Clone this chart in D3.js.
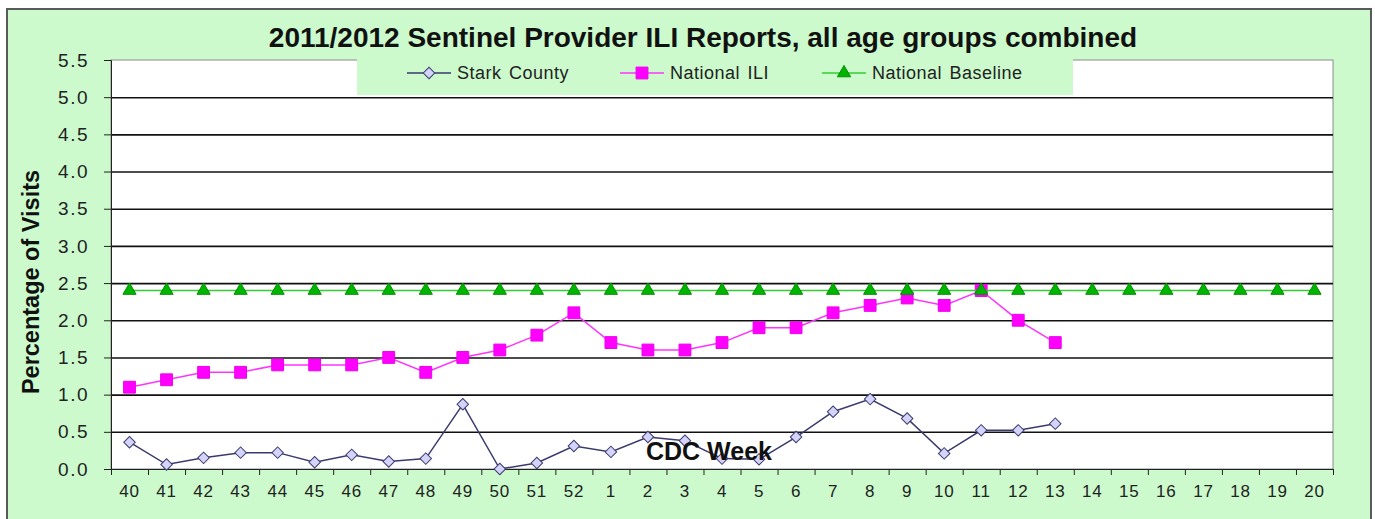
<!DOCTYPE html>
<html>
<head>
<meta charset="utf-8">
<script src="https://cdn.jsdelivr.net/npm/d3@7"></script>
<style>
  body { margin: 0; background: #fff; }
  text { font-family: Arial, "Liberation Sans", sans-serif; }
</style>
</head>
<body>
<div id="chart"></div>
<script>
// CDC weeks, season 2011/2012
const weeks = ["40","41","42","43","44","45","46","47","48","49","50","51","52",
  "1","2","3","4","5","6","7","8","9","10","11","12","13","14","15","16","17","18","19","20"];

// values (weeks after 13 not reported yet)
const starkCounty = [0.36, 0.06, 0.15, 0.22, 0.22, 0.09, 0.19, 0.10, 0.14, 0.87, 0.00, 0.08, 0.31,
  0.23, 0.43, 0.38, 0.14, 0.13, 0.43, 0.77, 0.94, 0.68, 0.21, 0.52, 0.52, 0.61];
const nationalILI = [1.1, 1.2, 1.3, 1.3, 1.4, 1.4, 1.4, 1.5, 1.3, 1.5, 1.6, 1.8, 2.1,
  1.7, 1.6, 1.6, 1.7, 1.9, 1.9, 2.1, 2.2, 2.3, 2.2, 2.4, 2.0, 1.7];
const nationalBaseline = weeks.map(() => 2.4);

const yTicks = [0, 0.5, 1, 1.5, 2, 2.5, 3, 3.5, 4, 4.5, 5, 5.5];

const W = 1375, H = 519;
const plot = { left: 111, right: 1333, top: 60, bottom: 469 };

const svg = d3.select("#chart").append("svg")
  .attr("width", W)
  .attr("height", H);

// outer frame
svg.append("rect")
  .attr("x", 7).attr("y", 9)
  .attr("width", 1364).attr("height", H)
  .attr("fill", "#ccfacc")
  .attr("stroke", "#5a5a5a")
  .attr("stroke-width", 2);

// plot area
svg.append("rect")
  .attr("x", plot.left).attr("y", plot.top)
  .attr("width", plot.right - plot.left).attr("height", plot.bottom - plot.top)
  .attr("fill", "#fff")
  .attr("stroke", "#8a8a8a")
  .attr("stroke-width", 1);

const x = d3.scaleBand()
  .domain(weeks)
  .range([plot.left, plot.right])
  .padding(0);

const xEdge = d3.scaleLinear()
  .domain([0, weeks.length])
  .range([plot.left, plot.right]);

const y = d3.scaleLinear()
  .domain([0, 5.5])
  .range([plot.bottom, plot.top]);

const cx = (i) => x(weeks[i]) + x.bandwidth() / 2;

// gridlines
svg.append("g")
  .attr("transform", `translate(${plot.left},0)`)
  .call(d3.axisLeft(y).tickValues(yTicks.filter(v => v > 0 && v < 5.5)).tickSize(-(plot.right - plot.left)).tickFormat(""))
  .call(g => g.select(".domain").remove())
  .selectAll("line")
  .attr("stroke", "#111")
  .attr("stroke-width", 1.6);

// y axis
svg.append("g")
  .attr("transform", `translate(${plot.left},0)`)
  .call(d3.axisLeft(y).tickValues(yTicks).tickSize(7).tickPadding(15).tickFormat(d3.format(".1f")))
  .call(g => g.select(".domain").attr("stroke", "#222"))
  .call(g => g.selectAll("line").attr("stroke", "#222"))
  .selectAll("text")
  .attr("font-size", "19px")
  .attr("letter-spacing", "1.5px")
  .attr("fill", "#222")
  .attr("font-family", "Arial, Liberation Sans, sans-serif");

// x axis ticks between categories
svg.append("g")
  .attr("transform", `translate(0,${plot.bottom})`)
  .call(d3.axisBottom(xEdge).tickValues(d3.range(weeks.length + 1)).tickSize(6).tickFormat(""))
  .call(g => g.selectAll("line").attr("stroke", "#222"))
  .call(g => g.select(".domain").attr("stroke", "#222"));

// x axis labels
svg.append("g")
  .attr("transform", `translate(0,${plot.bottom})`)
  .call(d3.axisBottom(x).tickSize(0).tickPadding(16))
  .call(g => g.select(".domain").remove())
  .selectAll("text")
  .attr("font-size", "17px")
  .attr("letter-spacing", "0.8px")
  .attr("fill", "#222")
  .attr("font-family", "Arial, Liberation Sans, sans-serif");

// series
const seriesDefs = [
  { name: "Stark County", values: starkCounty, line: "#3a3a6e", width: 1.5,
    symbol: d3.symbolSquare, size: 66, fill: "#d4d4fa", stroke: "#3a3a6e", rotate: 45 },
  { name: "National ILI", values: nationalILI, line: "#ff33ff", width: 1.5,
    symbol: d3.symbolSquare, size: 140, fill: "#ff00ff", stroke: "#ee00ee", rotate: 0 },
  { name: "National Baseline", values: nationalBaseline, line: "#33cc33", width: 1.5,
    symbol: d3.symbolTriangle, size: 75, fill: "#00b400", stroke: "#009000", rotate: 0 }
];

const line = d3.line()
  .x((d, i) => cx(i))
  .y(d => y(d));

seriesDefs.forEach(s => {
  const g = svg.append("g");
  g.append("path")
    .datum(s.values)
    .attr("fill", "none")
    .attr("stroke", s.line)
    .attr("stroke-width", s.width)
    .attr("d", line);
  g.selectAll("path.pt")
    .data(s.values.map((v, i) => ({ v, i })))
    .enter().append("path")
    .attr("class", "pt")
    .attr("d", d3.symbol(s.symbol, s.size))
    .attr("transform", d => `translate(${cx(d.i)},${y(d.v)}) rotate(${s.rotate})`)
    .attr("fill", s.fill)
    .attr("stroke", s.stroke)
    .attr("stroke-width", 1);
});

// legend
const legend = svg.append("g");
legend.append("rect")
  .attr("x", 357).attr("y", 57)
  .attr("width", 716).attr("height", 38)
  .attr("fill", "#ccfacc");

const legendPos = [407, 620, 822];
seriesDefs.forEach((s, i) => {
  const lx = legendPos[i], ly = 73;
  legend.append("line")
    .attr("x1", lx).attr("x2", lx + 44)
    .attr("y1", ly).attr("y2", ly)
    .attr("stroke", s.line)
    .attr("stroke-width", s.width);
  legend.append("path")
    .attr("d", d3.symbol(s.symbol, s.size))
    .attr("transform", `translate(${lx + 22},${ly}) rotate(${s.rotate})`)
    .attr("fill", s.fill)
    .attr("stroke", s.stroke);
  legend.append("text")
    .attr("x", lx + 50)
    .attr("y", ly + 6)
    .attr("font-size", "18px")
    .attr("letter-spacing", "0.5px")
    .attr("word-spacing", "2px")
    .attr("fill", "#222")
    .text(s.name);
});

// title
svg.append("text")
  .attr("x", 703)
  .attr("y", 47)
  .attr("text-anchor", "middle")
  .attr("font-size", "28px")
  .attr("font-weight", "bold")
  .attr("fill", "#111")
  .text("2011/2012 Sentinel Provider ILI Reports, all age groups combined");

// axis titles
svg.append("text")
  .attr("transform", "rotate(-90)")
  .attr("x", -282)
  .attr("y", 39)
  .attr("text-anchor", "middle")
  .attr("font-size", "23.5px")
  .attr("font-weight", "bold")
  .attr("fill", "#111")
  .text("Percentage of Visits");

svg.append("text")
  .attr("x", 709)
  .attr("y", 460)
  .attr("text-anchor", "middle")
  .attr("font-size", "25px")
  .attr("font-weight", "bold")
  .attr("fill", "#111")
  .text("CDC Week");
</script>
</body>
</html>
